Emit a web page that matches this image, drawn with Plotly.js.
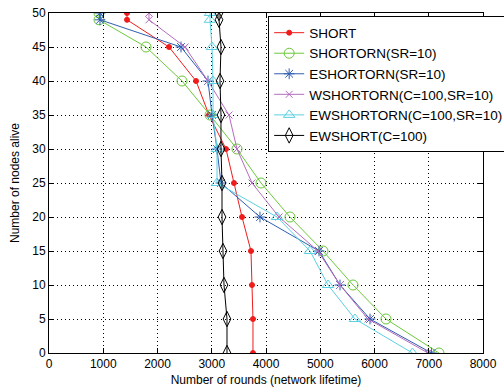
<!DOCTYPE html>
<html>
<head>
<meta charset="utf-8">
<script src="https://cdn.plot.ly/plotly-3.0.1.min.js"></script>
<style>html,body{margin:0;padding:0;background:#fff;}#chart{width:504px;height:389px;}</style>
</head>
<body>
<div id="chart"></div>
<script>
const nodesAlive = [50, 49, 45, 40, 35, 30, 25, 20, 15, 10, 5, 0];
const shortRounds = [1438, 1438, 2212, 2710, 2950, 3263, 3410, 3558, 3723, 3742, 3760, 3760];
const shortornRounds = [922, 922, 1788, 2452, 2968, 3465, 3908, 4442, 5051, 5604, 6212, 7189];
const eshortornRounds = [940, 940, 2433, 2931, 3005, 3097, 3170, 3889, 4977, 5364, 5917, 7050];
const wshortornRounds = [1843, 1843, 2507, 2931, 3318, 3465, 3742, 4240, 4958, 5364, 5880, 6986];
const ewshortornRounds = [2968, 2968, 3005, 3023, 3023, 3097, 3097, 4203, 4811, 5143, 5640, 6700];
const ewshortRounds = [3134, 3134, 3170, 3152, 3170, 3170, 3189, 3189, 3207, 3226, 3281, 3281];
const seriesNames = ['SHORT', 'SHORTORN(SR=10)', 'ESHORTORN(SR=10)', 'WSHORTORN(C=100,SR=10)', 'EWSHORTORN(C=100,SR=10)', 'EWSHORT(C=100)'];
const xTicks = [0, 1000, 2000, 3000, 4000, 5000, 6000, 7000, 8000];
const yTicks = [0, 5, 10, 15, 20, 25, 30, 35, 40, 45, 50];

const styles = [
  {color: '#f01c1c', symbol: 'circle', size: 5},
  {color: '#6cc83c', symbol: 'circle-open', size: 10},
  {color: '#2f5fb0', symbol: 'asterisk-open', size: 9},
  {color: '#b46cc0', symbol: 'x-thin-open', size: 7},
  {color: '#5cd0e0', symbol: 'triangle-up-open', size: 10},
  {color: '#000000', symbol: 'diamond-tall-open', size: 11}
];
const allX = [shortRounds, shortornRounds, eshortornRounds, wshortornRounds, ewshortornRounds, ewshortRounds];

const traces = allX.map((xs, i) => ({
  type: 'scatter', mode: 'lines+markers', name: seriesNames[i],
  x: xs, y: nodesAlive,
  line: {color: styles[i].color, width: 1},
  marker: {symbol: styles[i].symbol, size: styles[i].size, color: styles[i].color, line: {color: styles[i].color, width: 1}}
}));

const font = {family: 'Liberation Sans, Arial, sans-serif', size: 12, color: '#000'};
const layout = {
  width: 504, height: 389,
  margin: {l: 49, r: 21, t: 13, b: 36, autoexpand: false},
  paper_bgcolor: '#fff', plot_bgcolor: '#fff',
  font: font,
  showlegend: true,
  legend: {x: 0.505, y: 0.99, xanchor: 'left', yanchor: 'top', bgcolor: '#fff', bordercolor: '#000', borderwidth: 1,
           font: {family: 'Liberation Sans, Arial, sans-serif', size: 13.5, color: '#000'}, tracegroupgap: 0},
  xaxis: {range: [0, 8000], tickvals: xTicks, ticktext: xTicks.map(String), showgrid: true, gridcolor: '#000', griddash: '1px,3px', gridwidth: 1,
          zeroline: false, showline: true, mirror: 'ticks', linecolor: '#000', linewidth: 1, ticks: 'inside', ticklen: 5, tickcolor: '#000',
          title: {text: 'Number of rounds (network lifetime)', font: font, standoff: 5}},
  yaxis: {range: [0, 50], tickvals: yTicks, ticktext: yTicks.map(String), showgrid: true, gridcolor: '#000', griddash: '1px,3px', gridwidth: 1,
          zeroline: false, showline: true, mirror: 'ticks', linecolor: '#000', linewidth: 1, ticks: 'inside', ticklen: 5, tickcolor: '#000',
          title: {text: 'Number of nodes alive', font: font, standoff: 10}}
};
Plotly.newPlot('chart', traces, layout, {displayModeBar: false, staticPlot: true});
</script>
</body>
</html>
